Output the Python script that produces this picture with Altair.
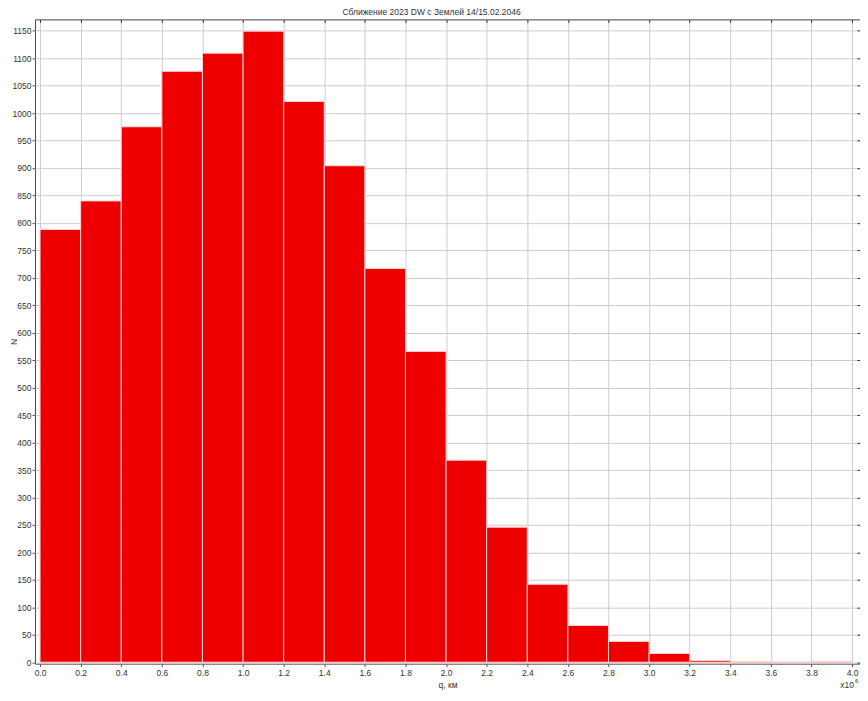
import altair as alt
import pandas as pd

# ---- data ----
bin_start = [0.0, 0.2, 0.4, 0.6, 0.8, 1.0, 1.2, 1.4, 1.6, 1.8,
             2.0, 2.2, 2.4, 2.6, 2.8, 3.0, 3.2, 3.4, 3.6, 3.8]
bin_end = [0.2, 0.4, 0.6, 0.8, 1.0, 1.2, 1.4, 1.6, 1.8, 2.0,
           2.2, 2.4, 2.6, 2.8, 3.0, 3.2, 3.4, 3.6, 3.8, 4.0]
counts = [788, 840, 975, 1076, 1109, 1149, 1021, 904, 717, 566,
          368, 246, 142, 67, 38, 16, 3, 1, 0.5, 1.5]

x_ticks = [0.0, 0.2, 0.4, 0.6, 0.8, 1.0, 1.2, 1.4, 1.6, 1.8, 2.0,
           2.2, 2.4, 2.6, 2.8, 3.0, 3.2, 3.4, 3.6, 3.8, 4.0]
y_ticks = [0, 50, 100, 150, 200, 250, 300, 350, 400, 450, 500, 550,
           600, 650, 700, 750, 800, 850, 900, 950, 1000, 1050, 1100, 1150]

title_text = "Сближение 2023 DW с Землей 14/15.02.2046"
x_title = "q, км"
y_title = "N"
exp_base = ["x10"]
exp_power = ["6"]

df = pd.DataFrame({"start": bin_start, "end": bin_end, "n": counts,
                   "base": [0] * len(counts)})

W, H = 826, 645
FONT = "Liberation Sans"
TXT = "#333333"

xscale = alt.Scale(domain=[-0.025, 4.039], nice=False, zero=False)
yscale = alt.Scale(domain=[-2.5, 1170.5], nice=False, zero=False)

bars = alt.Chart(df).mark_rect(color="#ee0000", stroke="#ffd2d2",
                               strokeWidth=1).encode(
    x=alt.X("start:Q", scale=xscale,
            axis=alt.Axis(values=x_ticks, format=".1f", title=x_title,
                          labelFont=FONT, labelFontSize=8.5, labelColor=TXT,
                          titleFont=FONT, titleFontSize=8.5, titleColor=TXT,
                          titleFontWeight="normal", titlePadding=3,
                          labelPadding=2, tickSize=3, tickColor="#555555",
                          domain=False, grid=True, gridColor="#cccccc",
                          labelFlush=False)),
    x2="end",
    y=alt.Y("n:Q", scale=yscale,
            axis=alt.Axis(values=y_ticks, format="d", title=y_title,
                          labelFont=FONT, labelFontSize=8.5, labelColor=TXT,
                          titleFont=FONT, titleFontSize=8.5, titleColor=TXT,
                          titleFontWeight="normal", titleX=-21,
                          titleY=H / 2, titleBaseline="middle",
                          labelPadding=1, tickSize=3, tickColor="#555555",
                          domain=False, grid=True, gridColor="#cccccc",
                          labelFlush=False)),
    y2="base",
)

frame = alt.Chart(df).mark_rect(opacity=0).encode(
    x=alt.X("start:Q", scale=xscale,
            axis=alt.Axis(orient="top", values=x_ticks, labels=False,
                          title="", grid=False, domain=False, tickSize=3,
                          offset=-3, tickColor="#333333")),
    x2="end",
    y=alt.Y("n:Q", scale=yscale,
            axis=alt.Axis(orient="right", values=y_ticks, labels=False,
                          title="", grid=False, domain=False, tickSize=3,
                          offset=-3, tickColor="#333333")),
    y2="base",
)

exp1 = alt.Chart(pd.DataFrame({"t": exp_base})).mark_text(
    font=FONT, fontSize=8.5, color=TXT, align="right",
    baseline="alphabetic").encode(
    text="t:N", x=alt.value(W - 6), y=alt.value(H + 24))
exp2 = alt.Chart(pd.DataFrame({"t": exp_power})).mark_text(
    font=FONT, fontSize=6, color=TXT, align="left",
    baseline="alphabetic").encode(
    text="t:N", x=alt.value(W - 5), y=alt.value(H + 19))

chart = alt.layer(bars, frame, exp1, exp2).resolve_axis(
    x="independent", y="independent"
).properties(
    width=W, height=H,
    title=alt.TitleParams(title_text, font=FONT, fontSize=8.5,
                          fontWeight="normal", color=TXT, offset=2,
                          anchor="middle", dx=-16),
    autosize=alt.AutoSizeParams(type="none"),
    padding={"left": 27, "top": 11, "right": 0, "bottom": 28},
    background="white",
).configure_view(stroke="#444444", strokeWidth=1)

chart.save("out.html", embed_options={"renderer": "svg", "actions": False})
